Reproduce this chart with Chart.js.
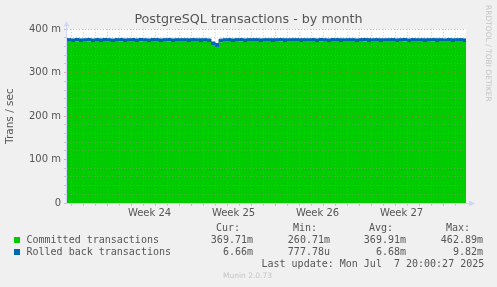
<!DOCTYPE html>
<html>
<head>
<meta charset="utf-8">
<script src="https://cdn.jsdelivr.net/npm/chart.js@4/dist/chart.umd.min.js"></script>
<style>
  body { margin: 0; background: #f0f0f0; }
  #wrap { position: relative; width: 497px; height: 287px; overflow: hidden; }
  #wrap div { position: absolute; white-space: pre; }
  .mono { font: 10px "DejaVu Sans Mono", monospace; line-height: 12px; color: #555; }
  .r { text-align: right; }
  .box { width: 6px; height: 6px; }
  .faint { font: 7.5px "DejaVu Sans", sans-serif; color: #c4c4c4; line-height: 10px; }
</style>
</head>
<body>
<div id="wrap">
  <canvas id="chart" width="497" height="287"></canvas>
</div>
<script>
// samples every 8 hours, values in milli-transactions per second
const sampleHours = 8;
const committed = [
  371.2, 370.8, 371.5, 370.9, 371.0, 371.6, 370.7, 371.3, 370.9, 371.4,
  371.1, 370.6, 371.2, 371.5, 370.8, 371.0, 371.3, 370.9, 371.6, 371.0,
  370.7, 371.2, 371.4, 370.9, 371.1, 371.5, 370.8, 371.2, 371.0, 371.3,
  370.9, 371.4, 371.1, 370.7, 371.2, 370.6, 362.0, 357.5, 369.8, 371.0,
  371.3, 370.8, 371.1, 371.5, 370.9, 371.2, 371.0, 371.4, 370.8, 371.1,
  371.3, 370.9, 371.2, 371.6, 370.8, 371.0, 371.4, 371.1, 370.7, 371.2,
  371.0, 371.3, 370.9, 371.5, 371.1, 370.8, 371.2, 371.4, 370.9, 371.1,
  371.3, 371.0, 370.7, 371.2, 371.5, 370.9, 371.1, 371.3, 370.8, 371.2,
  371.0, 371.4, 370.9, 371.1, 371.6, 370.8, 371.2, 371.0, 371.3, 370.9,
  371.1, 371.5, 370.8, 371.2, 371.0, 371.3, 370.9, 371.4, 371.1, 370.7,
  371.0
];
const rolledBack = [
  7.1, 6.8, 7.3, 6.9, 7.0, 7.2, 6.7, 7.1, 6.9, 7.2,
  7.0, 6.8, 7.1, 7.3, 6.9, 7.0, 7.2, 6.8, 7.1, 7.0,
  6.9, 7.2, 7.0, 6.8, 7.1, 7.3, 6.9, 7.0, 7.2, 6.9,
  7.1, 7.0, 6.8, 7.2, 7.0, 6.9, 8.6, 9.6, 7.4, 7.0,
  7.1, 6.9, 7.2, 7.0, 6.8, 7.1, 7.3, 6.9, 7.0, 7.2,
  6.9, 7.1, 7.0, 6.8, 7.2, 7.0, 6.9, 7.1, 7.3, 6.9,
  7.0, 7.2, 6.8, 7.1, 7.0, 6.9, 7.2, 7.0, 7.1, 6.8,
  7.0, 7.2, 6.9, 7.1, 7.0, 7.3, 6.9, 7.0, 7.1, 6.8,
  7.2, 7.0, 6.9, 7.1, 7.0, 6.8, 7.2, 7.1, 6.9, 7.0,
  7.1, 6.9, 7.2, 7.0, 6.8, 7.1, 7.0, 6.9, 7.2, 7.0,
  7.0
];
const weekLabels = ['Week 24', 'Week 25', 'Week 26', 'Week 27'];
const weekStarts = [3.38, 10.38, 17.38, 24.38, 31.38]; // days from graph start
const yTicks = [0, 100, 200, 300, 400];

const legendNames = ['Committed transactions', 'Rolled back transactions'];
const legendColors = ['#00cc00', '#0066b3'];
const statHeaders = ['Cur:', 'Min:', 'Avg:', 'Max:'];
const committedStats = ['369.71m', '260.71m', '369.91m', '462.89m'];
const rolledStats = ['6.66m', '777.78u', '6.68m', '9.82m'];
const lastUpdate = 'Last update: Mon Jul  7 20:00:27 2025';

const toPoints = arr => arr.map((v, i) => ({ x: i * sampleHours / 24, y: v }));

const dayLines = [];
for (let d = weekStarts[0] % 1; d < 33.25; d += 1) dayLines.push(Math.round(d * 100) / 100);
const labelDays = weekLabels.map((_, i) => (weekStarts[i] + weekStarts[i + 1]) / 2);
const isMajor = v => weekStarts.some(w => Math.abs(w - v) < 0.01);

const minorGrid = 'rgba(150,150,150,0.45)';
const majorGrid = 'rgba(215,90,90,0.45)';

const canvasBg = {
  id: 'canvasBg',
  beforeDraw(chart) {
    const { ctx, chartArea: a } = chart;
    ctx.save();
    ctx.fillStyle = '#ffffff';
    ctx.fillRect(a.left, a.top, a.right - a.left, a.bottom - a.top);
    ctx.restore();
  },
  afterDraw(chart) {
    const { ctx, chartArea: a } = chart;
    ctx.save();
    ctx.strokeStyle = '#cfd6f8';
    ctx.fillStyle = '#cfd6f8';
    ctx.lineWidth = 1;
    ctx.beginPath();
    ctx.moveTo(a.left - 0.5, a.bottom + 0.5);
    ctx.lineTo(a.left - 0.5, a.top - 4);
    ctx.moveTo(a.left - 0.5, a.bottom + 0.5);
    ctx.lineTo(a.right + 4, a.bottom + 0.5);
    ctx.stroke();
    ctx.beginPath();
    ctx.moveTo(a.left - 3.5, a.top - 3);
    ctx.lineTo(a.left + 2.5, a.top - 3);
    ctx.lineTo(a.left - 0.5, a.top - 8);
    ctx.closePath();
    ctx.fill();
    ctx.beginPath();
    ctx.moveTo(a.right + 3, a.bottom - 2.5);
    ctx.lineTo(a.right + 3, a.bottom + 3.5);
    ctx.lineTo(a.right + 9, a.bottom + 0.5);
    ctx.closePath();
    ctx.fill();
    ctx.restore();
  }
};

const config = {
  type: 'line',
  data: {
    datasets: [
      {
        label: legendNames[0],
        data: toPoints(committed),
        backgroundColor: legendColors[0],
        borderColor: legendColors[0],
        borderWidth: 0,
        fill: 'origin',
        stepped: 'before',
        pointRadius: 0
      },
      {
        label: legendNames[1],
        data: toPoints(rolledBack),
        backgroundColor: legendColors[1],
        borderColor: legendColors[1],
        borderWidth: 1,
        fill: '-1',
        stepped: 'before',
        pointRadius: 0
      }
    ]
  },
  options: {
    responsive: false,
    animation: false,
    devicePixelRatio: 1,
    layout: { padding: { left: 0, right: 0, top: 0, bottom: 60 } },
    plugins: {
      legend: { display: false },
      tooltip: { enabled: false },
      title: {
        display: true,
        text: 'PostgreSQL transactions - by month',
        color: '#555',
        font: { family: 'DejaVu Sans', size: 12.7, weight: 'normal' },
        padding: { top: 12, bottom: 2 }
      }
    },
    scales: {
      x: {
        type: 'linear',
        min: 0,
        max: 33.25,
        afterBuildTicks(scale) {
          scale.ticks = dayLines.concat(labelDays).sort((a, b) => a - b).map(v => ({ value: v }));
        },
        afterFit(scale) {
          scale.height = 24;
          scale.paddingRight = 31;
        },
        ticks: {
          autoSkip: false,
          maxRotation: 0,
          padding: 1,
          color: '#555',
          font: { family: 'DejaVu Sans', size: 10 },
          callback(v) {
            const i = labelDays.indexOf(v);
            return i >= 0 ? weekLabels[i] : '';
          }
        },
        grid: {
          z: 1,
          tickLength: 3,
          color(ctx) {
            const v = ctx.tick.value;
            if (labelDays.indexOf(v) >= 0) return 'rgba(0,0,0,0)';
            return isMajor(v) ? majorGrid : minorGrid;
          }
        },
        border: { display: false, dash: [1, 2] }
      },
      y: {
        stacked: true,
        min: 0,
        max: 400,
        afterFit(scale) {
          scale.width = 67;
          scale.paddingTop = 0;
          scale.paddingBottom = 0;
        },
        ticks: {
          stepSize: 20,
          autoSkip: false,
          padding: 3,
          color: '#555',
          font: { family: 'DejaVu Sans', size: 10 },
          callback(v) {
            if (!yTicks.includes(v)) return '';
            return v === 0 ? '0' : v + ' m';
          }
        },
        grid: {
          z: 1,
          tickLength: 3,
          color(ctx) {
            return ctx.tick.value % 100 === 0 ? majorGrid : minorGrid;
          }
        },
        border: { display: false, dash: [1, 2] },
        title: {
          display: true,
          text: 'Trans / sec',
          color: '#555',
          font: { family: 'DejaVu Sans', size: 10.5 },
          padding: { top: 4, bottom: 0 }
        }
      }
    }
  },
  plugins: [canvasBg]
};

new Chart(document.getElementById('chart'), config);

// rrdtool-style legend below the graph
const wrap = document.getElementById('wrap');
function addText(cls, text, style) {
  const d = document.createElement('div');
  d.className = cls;
  d.textContent = text;
  Object.assign(d.style, style);
  wrap.appendChild(d);
  return d;
}
const headerRight = [240, 317, 393, 470];
const valueRight = [253, 330, 406, 483];
statHeaders.forEach((h, i) => addText('mono r', h, { right: (497 - headerRight[i]) + 'px', top: '221.5px' }));
[committedStats, rolledStats].forEach((row, r) => {
  const top = r === 0 ? 233.5 : 245.5;
  addText('box', '', { left: '14px', top: (top + 3.5) + 'px', background: legendColors[r] });
  addText('mono', legendNames[r], { left: '26.5px', top: top + 'px' });
  row.forEach((v, i) => addText('mono r', v, { right: (497 - valueRight[i]) + 'px', top: top + 'px' }));
});
addText('mono', lastUpdate, { left: '261.5px', top: '257.5px' });
addText('faint', 'Munin 2.0.73', { left: '223px', top: '271px' });
addText('faint', 'RRDTOOL / TOBI OETIKER', { left: '483px', top: '5px', writingMode: 'vertical-rl' });
</script>
</body>
</html>
